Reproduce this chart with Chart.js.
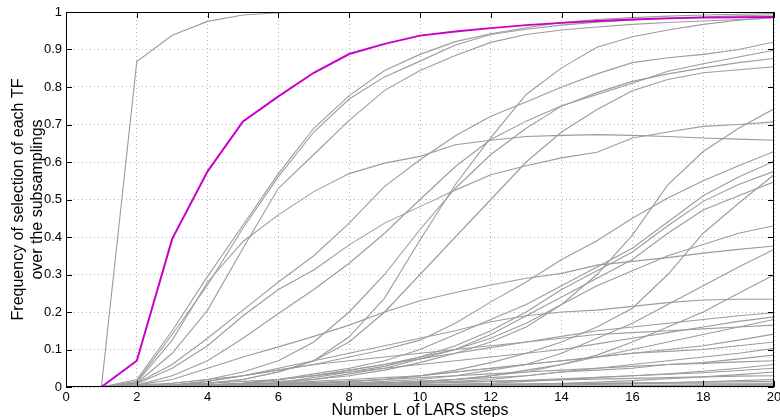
<!DOCTYPE html>
<html>
<head>
<meta charset="utf-8">
<script src="https://cdn.jsdelivr.net/npm/chart.js@4.4.1/dist/chart.umd.min.js"></script>
<style>
  html, body { margin: 0; padding: 0; background: #fff; }
</style>
</head>
<body>
<canvas id="myChart" width="780" height="417"></canvas>
<script>
// LARS steps on the x axis
const steps = [1, 2, 3, 4, 5, 6, 7, 8, 9, 10, 11, 12, 13, 14, 15, 16, 17, 18, 19, 20];
const xTicks = [0, 2, 4, 6, 8, 10, 12, 14, 16, 18, 20];
const yTicks = [0, 0.1, 0.2, 0.3, 0.4, 0.5, 0.6, 0.7, 0.8, 0.9, 1];

// highlighted TF (magenta)
const selectedTF = [0, .07, .395, .575, .708, .775, .838, .888, .915, .937, .948, .957, .965, .971, .976, .98, .983, .985, .986, .987];

// all the other TFs (grey)
const otherTFs = [
    [0, .868, .938, .975, .992, .998, 1, 1, 1, 1, 1, 1, 1, 1, 1, 1, 1, 1, 1, 1],
    [0, .02, .15, .295, .432, .569, .69, .777, .844, .887, .921, .942, .958, .972, .98, .985, .989, .992, .994, .996],
    [0, .015, .14, .272, .424, .561, .68, .768, .827, .869, .912, .94, .954, .965, .973, .979, .984, .987, .99, .992],
    [0, .01, .09, .205, .37, .53, .62, .711, .791, .844, .884, .919, .94, .952, .96, .967, .972, .976, .98, .984],
    [0, .012, .125, .28, .388, .459, .521, .569, .597, .615, .646, .658, .668, .671, .673, .671, .668, .664, .661, .658],
    [0, 0, .005, .01, .02, .04, .07, .134, .237, .392, .54, .665, .78, .851, .906, .934, .952, .967, .978, .985],
    [0, .01, .06, .13, .205, .28, .35, .437, .535, .606, .67, .722, .76, .80, .835, .865, .878, .887, .90, .92],
    [0, .008, .05, .11, .19, .26, .312, .379, .437, .481, .525, .566, .59, .611, .626, .664, .68, .695, .70, .707],
    [0, .005, .03, .07, .13, .196, .26, .33, .41, .5, .588, .66, .709, .75, .78, .81, .842, .862, .88, .898],
    [0, 0, .01, .02, .04, .07, .12, .2, .3, .42, .53, .62, .69, .749, .785, .815, .835, .851, .865, .876],
    [0, 0, .005, .01, .02, .04, .07, .12, .2, .3, .4, .5, .6, .68, .74, .79, .82, .838, .846, .854],
    [0, 0, .002, .005, .01, .015, .02, .03, .045, .065, .09, .12, .16, .22, .3, .405, .539, .628, .69, .742],
    [0, 0, .005, .015, .03, .045, .06, .08, .1, .125, .17, .227, .28, .34, .39, .45, .504, .55, .59, .628],
    [0, 0, 0, .003, .01, .02, .035, .05, .07, .1, .14, .18, .22, .27, .32, .37, .44, .51, .56, .602],
    [0, 0, 0, .002, .006, .012, .025, .04, .055, .08, .11, .15, .2, .26, .31, .36, .43, .495, .54, .575],
    [0, 0, 0, 0, .004, .01, .02, .035, .05, .075, .1, .14, .19, .24, .29, .34, .41, .472, .51, .547],
    [0, 0, 0, 0, .003, .006, .01, .015, .02, .03, .045, .065, .09, .12, .16, .21, .3, .41, .49, .566],
    [0, .005, .02, .05, .08, .107, .135, .165, .2, .23, .252, .272, .29, .303, .325, .335, .345, .357, .367, .376],
    [0, 0, .005, .015, .03, .05, .07, .09, .11, .13, .15, .174, .19, .2, .205, .215, .225, .232, .234, .234],
    [0, 0, .002, .005, .01, .02, .03, .045, .06, .08, .1, .13, .17, .22, .27, .31, .35, .38, .41, .43],
    [0, 0, 0, 0, .002, .004, .006, .01, .015, .02, .03, .045, .06, .09, .13, .17, .22, .27, .32, .367],
    [0, 0, 0, 0, 0, .002, .004, .006, .01, .015, .02, .03, .04, .06, .085, .12, .16, .2, .25, .299],
    [0, 0, .002, .005, .01, .02, .03, .045, .06, .075, .09, .105, .12, .135, .15, .16, .17, .18, .19, .198],
    [0, .002, .005, .01, .015, .02, .03, .04, .05, .06, .07, .08, .09, .1, .115, .13, .145, .16, .175, .187],
    [0, 0, 0, 0, 0, .002, .004, .006, .01, .015, .02, .03, .045, .06, .08, .1, .12, .14, .16, .18],
    [0, .005, .01, .02, .03, .045, .06, .07, .08, .09, .1, .11, .12, .13, .14, .145, .15, .155, .16, .165],
    [0, 0, 0, 0, .002, .005, .01, .015, .02, .03, .04, .05, .06, .07, .08, .09, .1, .11, .125, .141],
    [0, 0, .002, .004, .006, .01, .015, .02, .025, .03, .04, .05, .06, .07, .08, .09, .095, .1, .11, .12],
    [0, 0, 0, 0, 0, 0, .002, .004, .006, .01, .015, .02, .03, .04, .05, .06, .07, .08, .09, .103],
    [0, 0, 0, 0, .002, .004, .006, .008, .01, .015, .02, .025, .03, .04, .045, .05, .06, .065, .075, .085],
    [0, .002, .004, .006, .008, .01, .012, .015, .02, .025, .03, .035, .04, .045, .05, .055, .06, .063, .067, .07],
    [0, 0, 0, 0, 0, 0, 0, .002, .004, .006, .008, .01, .015, .02, .025, .03, .035, .042, .05, .06],
    [0, 0, 0, .002, .003, .004, .005, .006, .008, .01, .012, .015, .018, .022, .026, .03, .034, .038, .044, .05],
    [0, 0, 0, 0, 0, 0, 0, 0, 0, .002, .003, .005, .007, .01, .013, .017, .022, .027, .033, .04],
    [0, .003, .005, .007, .008, .009, .01, .011, .012, .013, .014, .015, .017, .019, .021, .023, .025, .027, .029, .03],
    [0, 0, 0, 0, 0, 0, 0, 0, 0, 0, 0, .002, .003, .005, .007, .009, .011, .014, .017, .02],
    [0, 0, 0, 0, 0, 0, .002, .003, .004, .005, .006, .007, .008, .009, .01, .011, .012, .013, .014, .015],
    [0, .002, .003, .004, .004, .005, .005, .006, .006, .007, .007, .008, .008, .009, .009, .01, .01, .01, .01, .01],
    [0, 0, 0, 0, 0, 0, 0, 0, 0, 0, 0, 0, 0, 0, .002, .003, .004, .005, .006, .008],
    [0, .001, .002, .002, .003, .003, .003, .004, .004, .004, .004, .005, .005, .005, .005, .005, .005, .005, .005, .005],
    [0, 0, 0, 0, 0, 0, 0, 0, 0, 0, 0, 0, 0, 0, 0, 0, 0, .002, .004, .005],
    [0, 0, 0, 0, 0, 0, 0, 0, 0, 0, 0, 0, 0, 0, 0, 0, 0, 0, 0, 0]
];

const fontName = "'Liberation Sans', Helvetica, Arial, sans-serif";

function toPoints(values) {
    return values.map((v, i) => ({ x: steps[i], y: v }));
}

const datasets = [{
    data: toPoints(selectedTF),
    borderColor: '#c800c8',
    borderWidth: 2,
    pointRadius: 0,
    tension: 0
}];
otherTFs.forEach(run => {
    datasets.push({
        data: toPoints(run),
        borderColor: '#9c9c9c',
        borderWidth: 1.1,
        pointRadius: 0,
        tension: 0
    });
});

// black box round the plot with inward ticks on all four sides
const boxPlugin = {
    id: 'box',
    afterDraw(chart) {
        const { ctx, chartArea: a, scales } = chart;
        ctx.save();
        ctx.strokeStyle = '#000';
        ctx.lineWidth = 1;
        ctx.strokeRect(a.left + 0.5, a.top + 0.5, a.right - a.left - 1, a.bottom - a.top - 1);
        ctx.beginPath();
        xTicks.forEach(v => {
            const px = Math.round(scales.x.getPixelForValue(v)) + 0.5;
            ctx.moveTo(px, a.bottom); ctx.lineTo(px, a.bottom - 6);
            ctx.moveTo(px, a.top); ctx.lineTo(px, a.top + 6);
        });
        yTicks.forEach(v => {
            const py = Math.round(scales.y.getPixelForValue(v)) + 0.5;
            ctx.moveTo(a.left, py); ctx.lineTo(a.left + 6, py);
            ctx.moveTo(a.right, py); ctx.lineTo(a.right - 6, py);
        });
        ctx.stroke();
        ctx.restore();
    }
};

const ctx = document.getElementById('myChart').getContext('2d');
window.myChart = new Chart(ctx, {
    type: 'line',
    data: { datasets: datasets },
    options: {
        responsive: false,
        animation: false,
        layout: { padding: { left: 0, right: 6, top: 12, bottom: 0 } },
        plugins: {
            legend: { display: false },
            tooltip: { enabled: false }
        },
        scales: {
            x: {
                type: 'linear',
                min: 0,
                max: 20,
                afterFit: scale => {
                    scale.height = 30;
                    scale.paddingRight = 0;  // let "20" run off the edge like the original
                },
                afterBuildTicks: scale => { scale.ticks = xTicks.map(v => ({ value: v })); },
                ticks: {
                    color: '#000',
                    padding: 3,
                    maxRotation: 0,
                    font: { family: fontName, size: 13 },
                    callback: v => String(v)
                },
                grid: { color: '#b4b4b4', lineWidth: 1, drawTicks: false },
                border: { display: false, dash: [1, 3] },
                title: {
                    display: true,
                    text: 'Number L of LARS steps',
                    color: '#000',
                    font: { family: fontName, size: 16 },
                    padding: { top: 0, bottom: -3 }
                }
            },
            y: {
                min: 0,
                max: 1,
                afterFit: scale => { scale.width = 66; },
                afterBuildTicks: scale => { scale.ticks = yTicks.map(v => ({ value: v })); },
                ticks: {
                    color: '#000',
                    padding: 4,
                    font: { family: fontName, size: 13 },
                    callback: v => String(Math.round(v * 10) / 10)
                },
                grid: { color: '#b4b4b4', lineWidth: 1, drawTicks: false },
                border: { display: false, dash: [1, 3] },
                title: {
                    display: true,
                    text: ['Frequency of selection of each TF', 'over the subsamplings'],
                    color: '#000',
                    font: { family: fontName, size: 16 },
                    padding: { top: 9, bottom: 0 }
                }
            }
        }
    },
    plugins: [boxPlugin]
});
</script>
</body>
</html>
